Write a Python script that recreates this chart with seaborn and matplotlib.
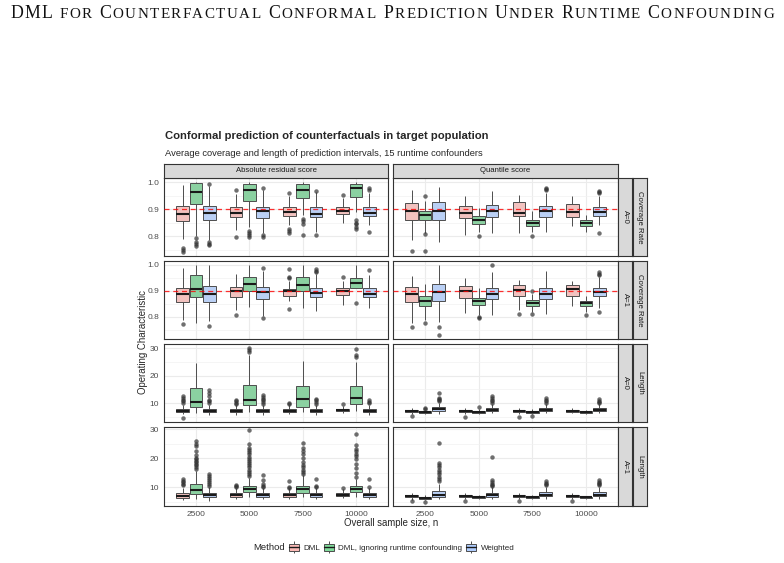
import numpy as np
import pandas as pd
import matplotlib.pyplot as plt
import seaborn as sns
from matplotlib.patches import Patch
from matplotlib.lines import Line2D
from matplotlib.legend_handler import HandlerTuple

sample_sizes = ["2500", "5000", "7500", "10000"]
methods = ["DML", "DML, ignoring runtime confounding", "Weighted"]
scores = ["Absolute residual score", "Quantile score"]
groups = ["A=0", "A=1", "A=0", "A=1"]
measures = ["Coverage Rate", "Coverage Rate", "Length", "Length"]
colors = ["#FBBAB6", "#80DC9C", "#B0CEFF"]

# one tuple per box (n = 2500..10000, each with DML / ignoring / Weighted):
# (lower whisker, q1, median, q3, upper whisker, outliers)
cov_a0_abs = [
    (0.790, 0.856, 0.883, 0.913, 0.988, [0.757, 0.748, 0.740]),
    (0.800, 0.917, 0.963, 0.996, 1.000, [0.794, 0.779, 0.772, 0.764]),
    (0.785, 0.861, 0.886, 0.913, 0.984, [0.993, 0.779, 0.772, 0.765]),
    (0.822, 0.869, 0.887, 0.908, 0.955, [0.969, 0.798]),
    (0.835, 0.929, 0.972, 0.994, 1.000, [0.818, 0.812, 0.804, 0.798]),
    (0.810, 0.868, 0.892, 0.909, 0.970, [0.978, 0.804, 0.795]),
    (0.840, 0.875, 0.890, 0.906, 0.950, [0.960, 0.826, 0.818, 0.810]),
    (0.877, 0.941, 0.969, 0.991, 1.000, [0.862, 0.856, 0.843, 0.804]),
    (0.816, 0.869, 0.883, 0.908, 0.963, [0.968, 0.804]),
    (0.850, 0.880, 0.894, 0.908, 0.940, [0.951]),
    (0.890, 0.945, 0.977, 0.991, 1.000, [0.859, 0.850, 0.843, 0.834, 0.826]),
    (0.840, 0.874, 0.887, 0.908, 0.958, [0.979, 0.969, 0.816]),
]
cov_a0_qnt = [
    (0.785, 0.861, 0.893, 0.923, 0.969, [0.746]),
    (0.810, 0.859, 0.877, 0.892, 0.930, [0.947, 0.807, 0.745]),
    (0.779, 0.861, 0.892, 0.925, 0.980, []),
    (0.804, 0.865, 0.885, 0.913, 0.948, []),
    (0.815, 0.845, 0.859, 0.873, 0.905, [0.800]),
    (0.810, 0.869, 0.892, 0.915, 0.967, []),
    (0.810, 0.874, 0.887, 0.925, 0.951, []),
    (0.815, 0.838, 0.850, 0.861, 0.892, [0.801]),
    (0.816, 0.871, 0.892, 0.911, 0.958, [0.979, 0.975, 0.972]),
    (0.838, 0.872, 0.890, 0.918, 0.947, []),
    (0.815, 0.837, 0.847, 0.858, 0.877, []),
    (0.840, 0.874, 0.890, 0.906, 0.950, [0.967, 0.962, 0.958, 0.813]),
]
cov_a1_abs = [
    (0.790, 0.857, 0.888, 0.913, 0.987, [0.771]),
    (0.777, 0.878, 0.907, 0.962, 1.000, []),
    (0.783, 0.857, 0.890, 0.917, 1.000, [0.764]),
    (0.828, 0.876, 0.898, 0.915, 0.966, [0.809]),
    (0.838, 0.900, 0.926, 0.955, 1.000, []),
    (0.805, 0.870, 0.894, 0.915, 0.977, [0.987, 0.794]),
    (0.860, 0.881, 0.898, 0.908, 0.940, [0.983, 0.955, 0.949, 0.832]),
    (0.834, 0.898, 0.924, 0.952, 1.000, []),
    (0.824, 0.876, 0.892, 0.913, 0.965, [0.983, 0.977, 0.972]),
    (0.847, 0.885, 0.898, 0.911, 0.940, [0.955]),
    (0.854, 0.911, 0.930, 0.948, 0.998, []),
    (0.834, 0.875, 0.890, 0.911, 0.960, [0.980]),
]
cov_a1_qnt = [
    (0.777, 0.856, 0.889, 0.915, 0.958, [0.762]),
    (0.790, 0.843, 0.862, 0.879, 0.926, [0.777]),
    (0.780, 0.862, 0.894, 0.926, 1.000, [0.762, 0.730]),
    (0.815, 0.873, 0.898, 0.918, 0.949, []),
    (0.808, 0.846, 0.860, 0.873, 0.911, [0.800, 0.797]),
    (0.808, 0.869, 0.888, 0.911, 0.972, [1.000]),
    (0.828, 0.879, 0.903, 0.921, 0.943, [0.813]),
    (0.820, 0.843, 0.853, 0.864, 0.888, [0.899, 0.810]),
    (0.811, 0.870, 0.890, 0.913, 0.975, []),
    (0.843, 0.881, 0.908, 0.922, 0.939, []),
    (0.820, 0.841, 0.852, 0.862, 0.882, [0.808]),
    (0.834, 0.879, 0.894, 0.911, 0.955, [0.972, 0.966, 0.960, 0.820]),
]
len_a0_abs = [
    (5.9, 6.6, 7.2, 7.8, 9.3, [12.7, 11.8, 11.2, 10.6, 10.0, 4.5]),
    (6.4, 8.5, 10.4, 15.5, 24.5, []),
    (5.8, 6.6, 7.2, 7.8, 9.3, [14.8, 13.6, 12.4, 11.2, 10.6, 10.0]),
    (5.8, 6.7, 7.2, 7.8, 9.2, [11.2, 10.6, 10.0, 9.6]),
    (6.6, 9.2, 11.2, 16.6, 27.5, [30.0, 29.4, 28.6]),
    (5.8, 6.6, 7.2, 7.8, 9.3, [13.0, 12.2, 11.5, 11.0, 10.4, 9.8]),
    (5.9, 6.7, 7.1, 7.8, 9.2, [10.2, 9.6]),
    (6.6, 8.4, 11.6, 16.1, 25.4, []),
    (5.8, 6.6, 7.2, 7.8, 9.3, [11.5, 11.0, 10.4, 9.8]),
    (6.2, 7.0, 7.3, 7.8, 8.8, [9.8]),
    (7.0, 9.8, 11.8, 16.1, 25.0, [29.6, 27.6, 26.7]),
    (5.8, 6.6, 7.2, 7.8, 9.3, [11.0, 10.4, 9.9]),
]
len_a0_qnt = [
    (6.0, 6.7, 7.2, 7.6, 8.2, [5.2]),
    (5.9, 6.4, 6.7, 7.0, 7.6, [8.2, 8.0]),
    (6.0, 7.0, 7.8, 8.5, 10.0, [13.6, 12.0, 11.6, 11.2, 10.9]),
    (6.0, 6.6, 7.1, 7.6, 8.2, [5.0]),
    (6.0, 6.5, 6.9, 7.2, 7.8, [8.4]),
    (6.2, 7.1, 7.6, 8.3, 9.8, [12.7, 11.8, 11.2, 10.6, 10.2]),
    (6.0, 6.6, 7.2, 7.6, 8.2, [5.0]),
    (5.9, 6.4, 6.8, 7.1, 7.7, [5.3]),
    (6.2, 7.1, 7.6, 8.2, 9.8, [11.8, 11.2, 10.6, 10.2]),
    (6.2, 6.8, 7.2, 7.6, 8.1, []),
    (6.0, 6.5, 6.8, 7.1, 7.6, []),
    (6.2, 7.1, 7.6, 8.2, 9.7, [11.3, 10.8, 10.4, 10.0]),
]
len_a1_abs = [
    (5.5, 6.3, 7.0, 7.9, 9.8, [12.6, 12.1, 11.6, 11.0, 10.6]),
    (6.0, 7.7, 8.8, 10.9, 15.5, [25.7, 25.0, 24.0, 22.5, 21.0, 20.0, 19.5, 19.0,
                                 18.5, 18.0, 17.5, 17.0, 16.2]),
    (5.3, 6.5, 7.2, 8.0, 10.0, [14.6, 13.8, 13.0, 12.3, 11.6, 11.0, 10.5]),
    (6.0, 6.6, 7.2, 7.9, 9.5, [10.6, 10.2, 9.9]),
    (6.4, 8.3, 9.4, 10.3, 13.2, [29.8, 25.0, 23.5, 22.8, 22.0, 21.3, 20.5, 19.8,
                                 19.0, 18.2, 17.5, 16.8, 16.0, 15.3, 14.5, 13.8]),
    (5.8, 6.6, 7.2, 7.9, 9.6, [14.2, 12.3, 11.0, 10.3, 9.9]),
    (6.0, 6.7, 7.2, 7.9, 9.5, [12.0, 10.0, 9.8]),
    (6.4, 8.0, 9.4, 10.5, 14.0, [25.3, 23.5, 22.5, 21.5, 20.0, 18.5, 17.5, 16.8,
                                 16.0, 15.2, 14.6]),
    (5.8, 6.6, 7.2, 7.9, 9.6, [12.6, 10.4, 10.0]),
    (6.2, 6.9, 7.3, 7.9, 9.2, [9.7]),
    (6.5, 8.3, 9.4, 10.2, 12.8, [28.3, 24.5, 23.2, 22.4, 21.5, 20.8, 19.5, 18.0,
                                 16.5, 15.0, 13.5]),
    (5.8, 6.6, 7.2, 7.9, 9.6, [12.8, 10.0]),
]
len_a1_qnt = [
    (5.6, 6.5, 6.9, 7.3, 8.0, [5.1]),
    (5.6, 6.0, 6.3, 6.6, 7.1, [5.0]),
    (5.8, 6.5, 7.4, 8.5, 11.2, [25.3, 18.4, 17.6, 16.8, 16.0, 15.2, 14.4, 13.6,
                                12.8, 12.0]),
    (6.0, 6.5, 6.9, 7.3, 7.8, [5.1]),
    (5.9, 6.3, 6.6, 6.9, 7.4, []),
    (5.9, 6.5, 7.1, 8.0, 10.0, [20.2, 12.3, 11.7, 11.2, 10.7, 10.4]),
    (5.9, 6.5, 6.9, 7.3, 7.8, [5.2]),
    (5.8, 6.1, 6.4, 6.7, 7.1, []),
    (6.0, 6.8, 7.3, 8.3, 10.0, [12.0, 11.5, 11.0, 10.6]),
    (6.0, 6.5, 6.9, 7.3, 7.8, [5.2]),
    (5.9, 6.2, 6.4, 6.7, 7.0, []),
    (6.0, 6.8, 7.3, 8.3, 10.0, [12.3, 11.8, 11.3, 10.9, 10.6]),
]

panels = [[cov_a0_abs, cov_a0_qnt], [cov_a1_abs, cov_a1_qnt],
          [len_a0_abs, len_a0_qnt], [len_a1_abs, len_a1_qnt]]

# expand each summary into values whose quartiles reproduce it
REP = 60
records = []
for r, pair in enumerate(panels):
    for c, boxes in enumerate(pair):
        for i, (lo, q1, med, q3, hi, out) in enumerate(boxes):
            vals = list(out) + [lo, hi] + [q1] * REP + [med] * REP + [q3] * REP
            for v in vals:
                records.append((r, c, sample_sizes[i // 3], methods[i % 3], v))
df = pd.DataFrame(records, columns=["row", "col", "n", "Method", "value"])

sns.set_style("white")
plt.rcParams["font.family"] = ["Liberation Sans", "DejaVu Sans"]

W, H = 784, 563


def rect(x0, y0, x1, y1):
    return [x0 / W, 1 - y1 / H, (x1 - x0) / W, (y1 - y0) / H]


col_x = [(164, 388), (393, 618)]
row_y = [(178, 256), (261, 339), (344, 422), (427, 506)]
ylims = [(0.726, 1.015), (0.715, 1.015), (3.1, 31.5), (3.45, 30.7)]
yticks = [[0.8, 0.9, 1.0], [0.8, 0.9, 1.0], [10, 20, 30], [10, 20, 30]]
yminor = [[0.75, 0.85, 0.95], [0.75, 0.85, 0.95], [5, 15, 25], [5, 15, 25]]

fig = plt.figure(figsize=(7.84, 5.63), dpi=100)

for r in range(4):
    for c in range(2):
        ax = fig.add_axes(rect(col_x[c][0], row_y[r][0], col_x[c][1], row_y[r][1]))
        sub = df[(df["row"] == r) & (df["col"] == c)]
        sns.boxplot(data=sub, x="n", y="value", hue="Method",
                    order=sample_sizes, hue_order=methods, palette=colors,
                    width=0.75, gap=0.06, linewidth=0.7, linecolor="#4d4d4d",
                    fliersize=3.2,
                    flierprops=dict(marker="o", markerfacecolor="#333333",
                                    markeredgecolor="none", alpha=0.7),
                    medianprops=dict(color="#1a1a1a", linewidth=1.5),
                    capprops=dict(linewidth=0),
                    legend=False, ax=ax)
        ax.set_xlim(-0.6, 3.6)
        ax.set_ylim(ylims[r])
        ax.set_xlabel("")
        ax.set_ylabel("")
        ax.set_yticks(yticks[r])
        ax.set_yticks(yminor[r], minor=True)
        if r < 2:
            ax.set_yticklabels(["0.8", "0.9", "1.0"])
            ax.axhline(0.9, color="#ff0000", ls=(0, (4, 3)), lw=0.9,
                       alpha=0.8, zorder=5)
        else:
            ax.set_yticklabels(["10", "20", "30"])
        ax.set_axisbelow(True)
        ax.grid(True, which="major", color="#EBEBEB", lw=0.8)
        ax.grid(True, which="minor", axis="y", color="#F2F2F2", lw=0.5)
        ax.tick_params(axis="both", which="major", length=2, width=0.5,
                       color="#333333", labelsize=6.0, labelcolor="#4D4D4D", pad=1.5)
        ax.tick_params(axis="both", which="minor", length=0)
        if c == 1:
            ax.tick_params(labelleft=False)
        if r < 3:
            ax.tick_params(labelbottom=False)
        for s in ax.spines.values():
            s.set_color("#333333")
            s.set_linewidth(0.8)


def strip(x0, y0, x1, y1, label, rot=0):
    sax = fig.add_axes(rect(x0, y0, x1, y1))
    sax.set_facecolor("#D9D9D9")
    sax.set_xticks([])
    sax.set_yticks([])
    for s in sax.spines.values():
        s.set_color("#333333")
        s.set_linewidth(0.8)
    sax.text(0.5, 0.5, label, rotation=rot, ha="center", va="center",
             fontsize=5.6, color="#1A1A1A", transform=sax.transAxes)


for c in range(2):
    strip(col_x[c][0], 164, col_x[c][1], 178, scores[c])
for r in range(4):
    strip(618, row_y[r][0], 632, row_y[r][1], groups[r], rot=-90)
    strip(633, row_y[r][0], 647, row_y[r][1], measures[r], rot=-90)

# titles and axis labels
fig.text(165 / W, 1 - 136 / H, "Conformal prediction of counterfactuals in target population",
         fontsize=8.1, fontweight="bold", va="center")
fig.text(165 / W, 1 - 153 / H,
         "Average coverage and length of prediction intervals, 15 runtime confounders",
         fontsize=6.75, va="center")
fig.text(143 / W, 1 - 342 / H, "Operating Characteristic", rotation=90,
         fontsize=6.9, ha="center", va="center")
fig.text(391 / W, 1 - 523 / H, "Overall sample size, n", fontsize=6.9,
         ha="center", va="center")

# legend
handles = []
for col in colors:
    handles.append((Line2D([], [], marker="|", markersize=8, ls="none",
                           color="#4d4d4d", markeredgewidth=0.7),
                    Patch(facecolor=col, edgecolor="#4d4d4d", lw=0.7),
                    Line2D([], [], color="#1a1a1a", lw=1.0)))
fig.text(253 / W, 1 - 548 / H, "Method", fontsize=6.8, va="center")
fig.legend(handles, methods, handler_map={tuple: HandlerTuple(ndivide=1)},
           ncol=3, loc="center left", bbox_to_anchor=(289 / W, 1 - 548 / H),
           frameon=False, fontsize=5.8, handlelength=1.22, handleheight=0.9,
           handletextpad=0.55, columnspacing=0.5, borderaxespad=0, borderpad=0)

# running header in small caps, spread to the page width
header = "DML for Counterfactual Conformal Prediction Under Runtime Confounding"
renderer = fig.canvas.get_renderer()
BIG, SMALL = 12.8, 10.8
chars = []
for ch in header:
    if ch == " ":
        chars.append((None, 0.25 * BIG * 100 / 72))
        continue
    t = fig.text(0, 1 - 18 / H, ch.upper(), fontsize=BIG if ch.isupper() else SMALL,
                 family="Liberation Serif", va="baseline", color="#111111")
    chars.append((t, t.get_window_extent(renderer).width))
natural = sum(w for _, w in chars)
track = (764 - natural) / (len(chars) - 1)
x = (W - 764) / 2
for t, w in chars:
    if t is not None:
        t.set_x(x / W)
    x += w + track

fig.savefig("out.png", dpi=100)
